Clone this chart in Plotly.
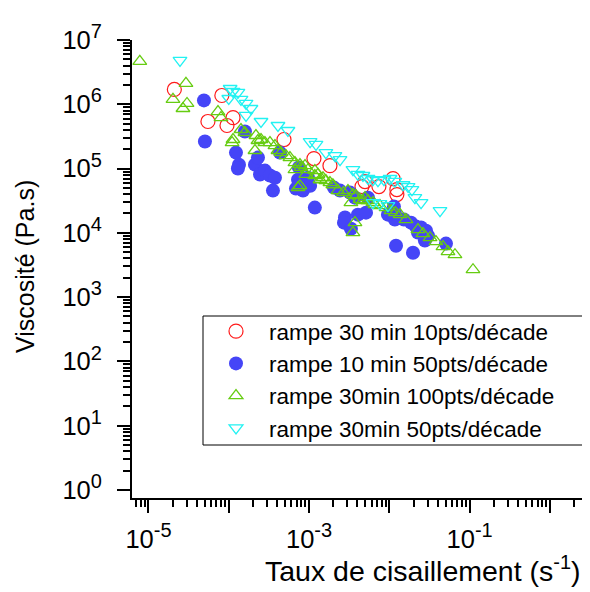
import plotly.graph_objects as go

# ---- data ----
series_names = ["rampe 30 min 10pts/décade", "rampe 10 min 50pts/décade",
                "rampe 30min 100pts/décade", "rampe 30min 50pts/décade"]

red_x = [2.1e-5, 8.2e-5, 5.5e-5, 9.5e-5, 1.13e-4, 4.87e-4, 1.15e-3, 1.82e-3, 4.97e-3, 4.56e-3,
         7.41e-3, 1.11e-2, 1.24e-2, 1.24e-2]
red_y = [1.70e6, 1.37e6, 5.4e5, 4.68e5, 6.2e5, 2.83e5, 1.43e5, 1.11e5, 6.28e4, 5.25e4,
         5.25e4, 6.98e4, 4.71e4, 3.94e4]

blue_x = [4.91e-5, 5.05e-5, 1.59e-4, 1.23e-4, 1.34e-4, 1.30e-4, 2.12e-4, 2.31e-4, 2.45e-4, 2.82e-4,
          3.26e-4, 3.76e-4, 3.55e-4, 4.34e-4, 6.87e-4, 7.28e-4, 8.4e-4, 7.48e-4, 9.7e-4, 1.03e-3,
          1.18e-3, 2.43e-3, 3.23e-3, 2.80e-3, 2.72e-3, 3.32e-3, 4.06e-3, 5.12e-3, 1.14e-2, 1.17e-2,
          1.17e-2, 1.86e-2, 2.14e-2, 2.27e-2, 2.48e-2, 2.86e-2, 3.03e-2, 2.77e-2, 5.07e-2, 1.21e-2,
          1.97e-2, 2.04e-3, 3.73e-3, 5.42e-3, 9.6e-3, 1.52e-2]
blue_y = [1.15e6, 2.63e5, 3.77e5, 1.77e5, 1.15e5, 1.0e5, 1.15e5, 1.48e5, 8.1e4, 9.3e4,
          7.8e4, 7.2e4, 4.54e4, 1.77e5, 4.88e4, 6.7e4, 4.54e4, 1.04e5, 7.2e4, 5.4e4,
          2.47e4, 4.54e4, 4.23e4, 1.73e4, 1.44e4, 1.16e4, 1.92e4, 2.06e4, 2.56e4, 2.06e4,
          1.61e4, 1.44e4, 1.25e4, 1.01e4, 1.21e4, 1.08e4, 9.0e3, 7.6e3, 6.8e3, 6.3e3,
          4.9e3, 5.06e4, 3.53e4, 3.53e4, 1.92e4, 1.61e4]

green_x = [7.8e-6, 2.93e-5, 2.02e-5, 3.02e-5, 2.69e-5, 7.34e-5, 8.0e-5, 1.10e-4, 1.42e-4, 1.59e-4,
           1.13e-4, 2.18e-4, 2.31e-4, 2.52e-4, 2.12e-4, 2.82e-4, 3.26e-4, 3.76e-4, 4.1e-4, 4.47e-4,
           5.15e-4, 5.78e-4, 6.67e-4, 7.7e-4, 8.9e-4, 9.1e-4, 9.7e-4, 7.28e-4, 7.9e-4, 1.18e-3,
           1.18e-3, 1.29e-3, 1.37e-3, 1.49e-3, 1.62e-3, 1.82e-3, 1.98e-3, 7.7e-4, 2.29e-3, 3.05e-3,
           3.52e-3, 3.84e-3, 3.32e-3, 4.3e-3, 4.97e-3, 5.42e-3, 6.25e-3, 6.62e-3, 7.64e-3, 9.1e-3,
           1.05e-2, 1.19e-2, 1.36e-2, 1.61e-2, 3.73e-3, 3.52e-3, 2.27e-2, 2.62e-2, 3.21e-2, 3.80e-2,
           4.65e-2, 5.37e-2, 6.56e-2, 0.110, 6.67e-4, 2.68e-3, 4.69e-3]
green_y = [4.64e6, 2.11e6, 1.19e6, 1.03e6, 8.6e5, 7.7e5, 6.2e5, 2.54e5, 4.05e5, 3.64e5,
           2.83e5, 3.27e5, 2.73e5, 2.83e5, 1.91e5, 2.54e5, 2.54e5, 2.28e5, 1.91e5, 1.77e5,
           1.59e5, 1.48e5, 1.24e5, 1.15e5, 1.11e5, 8.1e4, 9.6e4, 5.06e4, 1.04e5, 7.8e4,
           9.3e4, 8.1e4, 6.7e4, 7.2e4, 6.5e4, 6.05e4, 5.6e4, 5.4e4, 4.54e4, 4.54e4,
           3.94e4, 3.8e4, 2.95e4, 3.29e4, 3.53e4, 3.18e4, 2.95e4, 2.75e4, 2.65e4, 2.47e4,
           2.22e4, 2.06e4, 1.92e4, 1.61e4, 1.44e4, 1.01e4, 1.12e4, 9.7e3, 8.4e3, 7.3e3,
           6.1e3, 5.1e3, 4.57e3, 2.67e3, 9.6e4, 4.23e4, 3.18e4]

cyan_x = [2.47e-5, 1.04e-4, 1.13e-4, 1.30e-4, 1.0e-4, 1.42e-4, 1.64e-4, 1.89e-4, 1.64e-4, 2.52e-4,
          4.1e-4, 5.46e-4, 1.03e-3, 1.22e-3, 1.62e-3, 2.10e-3, 2.43e-3, 3.52e-3, 4.06e-3, 4.69e-3,
          5.42e-3, 6.25e-3, 7.21e-3, 8.57e-3, 1.02e-2, 1.17e-2, 1.48e-2, 1.71e-2, 1.91e-2, 2.08e-2,
          2.48e-2, 4.27e-2, 6.25e-3, 7.64e-3, 9.6e-3]
cyan_y = [4.81e6, 1.76e6, 1.58e6, 1.53e6, 1.23e6, 1.19e6, 1.03e6, 8.6e5, 6.7e5, 5.4e5,
          4.68e5, 3.91e5, 2.63e5, 2.37e5, 1.77e5, 1.59e5, 1.38e5, 9.6e4, 8.1e4, 7.8e4,
          7.0e4, 6.7e4, 6.5e4, 6.7e4, 7.0e4, 6.3e4, 5.6e4, 5.25e4, 4.71e4, 3.53e4,
          2.95e4, 2.22e4, 2.95e4, 2.85e4, 2.65e4]

x_tick_exps = [-5, -4, -3, -2, -1, 0]
x_tick_labeled = [-5, -3, -1]
y_tick_exps = [0, 1, 2, 3, 4, 5, 6, 7]

x_title = "Taux de cisaillement (s<sup>-1</sup>)"
y_title = "Viscosité (Pa.s)"

# ---- figure ----
FONT = "Liberation Sans, Arial, sans-serif"
RED, BLUE, GREEN, CYAN = "#FF1A1A", "#4545F7", "#66CC11", "#22F2F2"

# plot-area geometry in pixels (for placing the titles / legend frame)
L, R, T, B = 124, 590, 32, 490
def px(xp):
    return (xp - L) / (R - L)
def py(yp):
    return (B - yp) / (B - T)

def pow_label(e):
    return "10<sup><span style='font-size:20px'>%d</span></sup>" % e

fig = go.Figure()
fig.add_trace(go.Scatter(x=red_x, y=red_y, mode="markers", name=series_names[0],
                         marker=dict(symbol="circle-open", size=14, color=RED, line=dict(width=1.2, color=RED))))
fig.add_trace(go.Scatter(x=blue_x, y=blue_y, mode="markers", name=series_names[1],
                         marker=dict(symbol="circle", size=14, color=BLUE, line=dict(width=0))))
fig.add_trace(go.Scatter(x=green_x, y=green_y, mode="markers", name=series_names[2],
                         marker=dict(symbol="triangle-up-open", size=12, color=GREEN, line=dict(width=1.3, color=GREEN))))
fig.add_trace(go.Scatter(x=cyan_x, y=cyan_y, mode="markers", name=series_names[3],
                         marker=dict(symbol="triangle-down-open", size=12, color=CYAN, line=dict(width=1.3, color=CYAN))))

def minor_vals(e0, e1):
    return [m * 10.0 ** e for e in range(e0, e1) for m in range(2, 10)]

fig.update_xaxes(
    type="log", range=[-5.205, 0.598],
    showline=True, linecolor="black", linewidth=2, mirror=False,
    showgrid=False, zeroline=False,
    ticks="outside", ticklen=13, tickwidth=2, tickcolor="black",
    tickmode="array",
    tickvals=[10.0 ** e for e in x_tick_exps],
    ticktext=[pow_label(e) if e in x_tick_labeled else "" for e in x_tick_exps],
    ticklabelstandoff=4,
    tickfont=dict(family=FONT, size=25.5, color="black"),
    minor=dict(ticks="outside", ticklen=7, tickwidth=2, tickcolor="black",
               tickmode="array", tickvals=minor_vals(-6, 1), showgrid=False),
)
fig.update_yaxes(
    type="log", range=[-0.125, 7],
    showline=True, linecolor="black", linewidth=2, mirror=False,
    showgrid=False, zeroline=False,
    ticks="outside", ticklen=13, tickwidth=2, tickcolor="black",
    tickmode="array",
    tickvals=[10.0 ** e for e in y_tick_exps],
    ticktext=[pow_label(e) for e in y_tick_exps],
    ticklabelstandoff=10,
    tickfont=dict(family=FONT, size=25.5, color="black"),
    minor=dict(ticks="outside", ticklen=7, tickwidth=2, tickcolor="black",
               tickmode="array", tickvals=minor_vals(0, 7), showgrid=False),
)

fig.add_annotation(text=x_title, xref="paper", yref="paper",
                   x=px(415), y=py(561), xanchor="center", yanchor="middle",
                   showarrow=False, font=dict(family=FONT, size=28.5, color="black"))
fig.add_annotation(text=y_title, xref="paper", yref="paper", textangle=-90,
                   x=px(17), y=py(259), xanchor="center", yanchor="middle",
                   showarrow=False, font=dict(family=FONT, size=25, color="black"))

# legend frame
fig.add_shape(type="rect", xref="paper", yref="paper",
              x0=px(195), x1=px(588), y0=py(437), y1=py(308),
              line=dict(color="black", width=1), fillcolor="white", layer="above")

fig.update_layout(
    width=590, height=592,
    margin=dict(l=L, r=590 - R, t=T, b=592 - B),
    paper_bgcolor="white", plot_bgcolor="white",
    font=dict(family=FONT, color="black"),
    legend=dict(x=px(195), y=py(302), xanchor="left", yanchor="top",
                bgcolor="rgba(0,0,0,0)", borderwidth=0,
                font=dict(family=FONT, size=22.5, color="black"),
                itemwidth=56, tracegroupgap=0),
    showlegend=True,
)

fig.write_html("out.html")
